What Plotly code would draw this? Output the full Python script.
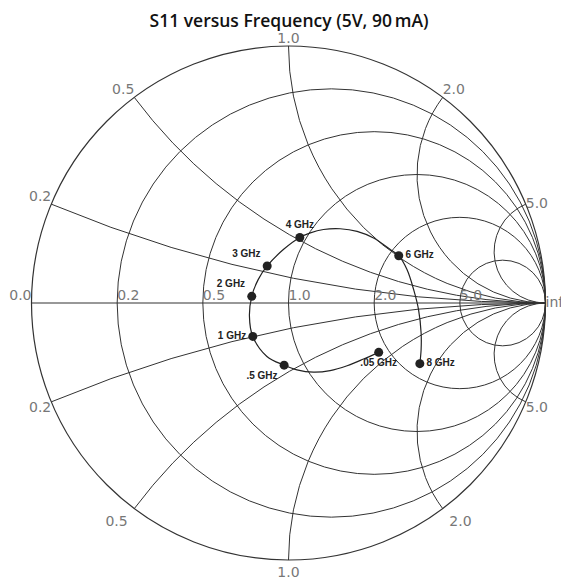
import plotly.graph_objects as go

s11_curve_re = [0.351, 0.292, 0.228, 0.162, 0.097, 0.033, -0.017, -0.084, -0.139, -0.152,
                -0.143, -0.118, -0.083, -0.020, 0.044, 0.085, 0.136, 0.201, 0.267, 0.331,
                0.396, 0.429, 0.461, 0.487, 0.506, 0.516, 0.516, 0.511]
s11_curve_im = [-0.192, -0.218, -0.244, -0.263, -0.269, -0.260, -0.242, -0.208, -0.130, -0.052,
                0.026, 0.091, 0.144, 0.208, 0.255, 0.273, 0.286, 0.289, 0.279, 0.253,
                0.208, 0.184, 0.130, 0.052, -0.026, -0.117, -0.182, -0.236]

# marked frequency points
freq_labels = [".05 GHz", ".5 GHz", "1 GHz", "2 GHz", "3 GHz", "4 GHz", "6 GHz", "8 GHz"]
s11_mark_re = [0.351, -0.017, -0.139, -0.143, -0.083, 0.044, 0.429, 0.511]
s11_mark_im = [-0.192, -0.242, -0.130, 0.026, 0.144, 0.255, 0.184, -0.236]
label_pos = ["bottom center", "bottom left", "middle left", "top left",
             "top left", "top center", "middle right", "middle right"]

real_ticks = [0.2, 0.5, 1, 2, 5]
imag_ticks = [-5, -2, -1, -0.5, -0.2, 0.2, 0.5, 1, 2, 5]

# resistance-axis labels (value, text)
real_label_vals = [0, 0.2, 0.5, 1, 2, 5, 1e6]
real_label_text = ["0.0", "0.2", "0.5", "1.0", "2.0", "5.0", "inf"]
real_label_pos = ["top left", "top right", "top right", "top right", "top right",
                  "top right", "middle right"]

# reactance-axis labels (value, text) on the outer circle
imag_label_vals = [0.2, 0.5, 1, 2, 5, -0.2, -5]
imag_label_text = ["0.2", "0.5", "1.0", "2.0", "5.0", "0.2", "5.0"]
imag_label_pos = ["top left", "top left", "top center", "top right", "middle right",
                  "bottom left", "bottom right"]
imag_low_vals = [-0.5, -1, -2]
imag_low_text = ["0.5", "1.0", "2.0"]
imag_low_pos = ["bottom left", "bottom center", "bottom right"]


def to_z(re, im):
    zr, zi = [], []
    for a, b in zip(re, im):
        g = complex(a, b)
        z = (1 + g) / (1 - g)
        zr.append(z.real)
        zi.append(z.imag)
    return zr, zi


curve_r, curve_x = to_z(s11_curve_re, s11_curve_im)
mark_r, mark_x = to_z(s11_mark_re, s11_mark_im)

label_font = dict(family="DejaVu Sans", size=14, color="#777")

fig = go.Figure()
fig.add_trace(go.Scattersmith(
    real=curve_r, imag=curve_x, mode="lines",
    line=dict(color="#222", width=1.2, shape="spline"),
    showlegend=False, hoverinfo="skip",
))
fig.add_trace(go.Scattersmith(
    real=mark_r, imag=mark_x, mode="markers+text",
    text=freq_labels, textposition=label_pos,
    textfont=dict(family="Liberation Sans", size=10, color="#222", weight="bold"),
    marker=dict(color="#222", size=9),
    showlegend=False, hoverinfo="skip",
))
fig.add_trace(go.Scattersmith(
    real=real_label_vals, imag=[0] * len(real_label_vals), mode="text",
    text=real_label_text, textposition=real_label_pos, textfont=label_font,
    cliponaxis=False, showlegend=False, hoverinfo="skip",
))
fig.add_trace(go.Scattersmith(
    real=[0] * len(imag_label_vals), imag=imag_label_vals, mode="text",
    text=imag_label_text, textposition=imag_label_pos, textfont=label_font,
    cliponaxis=False, showlegend=False, hoverinfo="skip",
))
fig.add_trace(go.Scattersmith(
    real=[0] * len(imag_low_vals), imag=imag_low_vals, mode="markers+text",
    text=imag_low_text, textposition=imag_low_pos, textfont=label_font,
    marker=dict(size=9, color="rgba(0,0,0,0)"),
    cliponaxis=False, showlegend=False, hoverinfo="skip",
))

axis_common = dict(
    gridcolor="#333", gridwidth=1, linecolor="#333", linewidth=1.2,
    tickfont=label_font, ticks="", showticklabels=False,
)
fig.update_layout(
    width=569, height=581,
    margin=dict(l=23, r=31, t=38, b=29),
    paper_bgcolor="white",
    title=dict(text="S11 versus Frequency (5V, 90\u2009mA)", x=0.494, y=0.978,
               xanchor="center", yanchor="middle",
               font=dict(family="Open Sans", size=17.5, color="#111", weight=600)),
    smith=dict(
        bgcolor="white",
        realaxis=dict(tickvals=real_ticks, **axis_common),
        imaginaryaxis=dict(tickvals=imag_ticks, **axis_common),
    ),
)
fig.write_html("out.html")
